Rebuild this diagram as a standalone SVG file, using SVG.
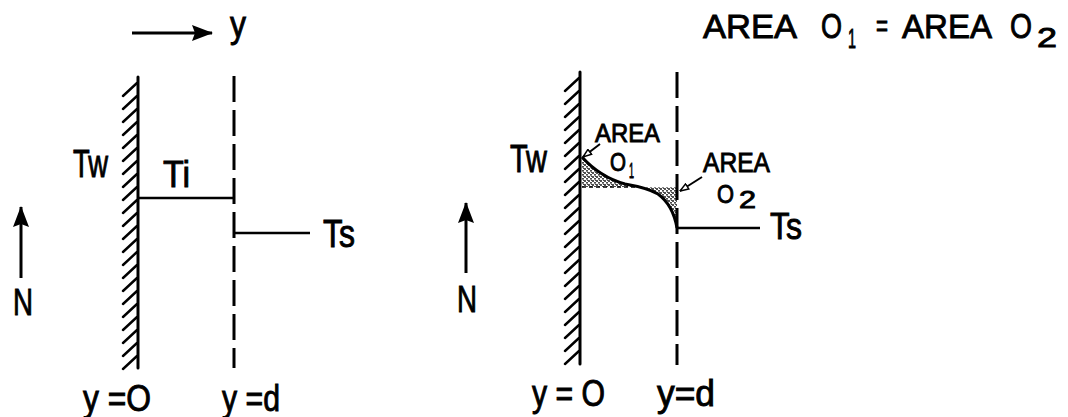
<svg xmlns="http://www.w3.org/2000/svg" width="1068" height="417" viewBox="0 0 1068 417">
<style>
  text { font-family: "Liberation Sans", Arial, sans-serif; fill: #000; stroke: #000; stroke-width: 0.9; }
  .wall { stroke: #000; stroke-width: 3; fill: none; stroke-linecap: round; }
  .hatch { stroke: #000; stroke-width: 2.4; fill: none; stroke-linecap: round; }
  .dash { stroke: #000; stroke-width: 3; fill: none; stroke-dasharray: 26 8; }
  .ln { stroke: #000; stroke-width: 2.5; fill: none; }
  .arr { stroke: #000; stroke-width: 3; fill: none; marker-end: url(#ah); }
  .sarr { stroke: #000; stroke-width: 2; fill: none; marker-end: url(#sh); }
  .stip { fill: url(#dots); stroke: none; }
</style>
<defs>
  <marker id="ah" viewBox="0 0 21 16" markerUnits="userSpaceOnUse" markerWidth="21" markerHeight="16" refX="20" refY="8" orient="auto">
    <path d="M0 0 L21 8 L0 16 L3 8 Z" fill="#000"/>
  </marker>
  <marker id="sh" viewBox="0 0 10 8" markerUnits="userSpaceOnUse" markerWidth="10" markerHeight="8" refX="9.5" refY="4" orient="auto">
    <path d="M1 1 L9.5 4 L1 7 Z" fill="#fff" stroke="#000" stroke-width="1.5"/>
  </marker>
  <pattern id="dots" patternUnits="userSpaceOnUse" width="4" height="4">
    <rect width="4" height="4" fill="#fff"/>
    <circle cx="1" cy="1" r="0.9" fill="#000"/>
    <circle cx="3" cy="2.8" r="0.9" fill="#000"/>
    <circle cx="3.4" cy="0.6" r="0.5" fill="#000"/>
  </pattern>
</defs>

<g id="title">
  <text font-size="34" x="703" y="38" textLength="94" lengthAdjust="spacingAndGlyphs">AREA</text>
  <text font-size="35" x="821" y="38" textLength="21" lengthAdjust="spacingAndGlyphs">O</text>
  <text font-size="28" x="848" y="48" textLength="8" lengthAdjust="spacingAndGlyphs">1</text>
  <text font-size="30" x="876" y="36" textLength="12" lengthAdjust="spacingAndGlyphs">=</text>
  <text font-size="34" x="902" y="38" textLength="90" lengthAdjust="spacingAndGlyphs">AREA</text>
  <text font-size="35" x="1010" y="38" textLength="22" lengthAdjust="spacingAndGlyphs">O</text>
  <text font-size="28" x="1037" y="47" textLength="20" lengthAdjust="spacingAndGlyphs">2</text>
</g>

<g id="left-panel">
  <path class="wall" d="M138 77 V368"/>
  <path class="hatch" d="M123 96 L137 83 M123 109 L137 96 M123 122 L137 109 M123 135 L137 122 M123 148 L137 135 M123 161 L137 148 M123 174 L137 161 M123 187 L137 174 M123 200 L137 187 M123 213 L137 200 M123 226 L137 213 M123 239 L137 226 M123 252 L137 239 M123 265 L137 252 M123 278 L137 265 M123 291 L137 278 M123 304 L137 291 M123 317 L137 304 M123 330 L137 317 M123 343 L137 330 M123 356 L137 343 M123 369 L137 356"/>
  <path class="dash" d="M234 76 V368"/>
  <path class="ln" d="M138 198 H234"/>
  <path class="ln" d="M234 233 H310"/>
  <text font-size="37" x="230" y="37" textLength="16" lengthAdjust="spacingAndGlyphs">y</text>
  <text font-size="38" x="73" y="177" textLength="35" lengthAdjust="spacingAndGlyphs">Tw</text>
  <text font-size="36" x="163" y="187" textLength="27" lengthAdjust="spacingAndGlyphs">Ti</text>
  <text font-size="38" x="323" y="247" textLength="32" lengthAdjust="spacingAndGlyphs">Ts</text>
  <text font-size="37" x="13" y="315" textLength="20" lengthAdjust="spacingAndGlyphs">N</text>
  <text font-size="37" x="83" y="411" textLength="68" lengthAdjust="spacingAndGlyphs">y =O</text>
  <text font-size="37" x="222" y="411" textLength="58" lengthAdjust="spacingAndGlyphs">y =d</text>
</g>

<g id="right-panel">
  <path class="stip" d="M582 157 Q600 177 625 184 L643 187 L582 187 Z"/>
  <path class="stip" d="M643 187 L677 187 L677 228 Q673 205 658 194 Q650 189 643 187 Z"/>
  <path d="M582 187 H643" stroke="#000" stroke-width="1.5" stroke-dasharray="4 3" fill="none"/>
  <path class="wall" d="M580 72 V364"/>
  <path class="hatch" d="M565 91 L579 78 M565 104 L579 91 M565 117 L579 104 M565 130 L579 117 M565 143 L579 130 M565 156 L579 143 M565 169 L579 156 M565 182 L579 169 M565 195 L579 182 M565 208 L579 195 M565 221 L579 208 M565 234 L579 221 M565 247 L579 234 M565 260 L579 247 M565 273 L579 260 M565 286 L579 273 M565 299 L579 286 M565 312 L579 299 M565 325 L579 312 M565 338 L579 325 M565 351 L579 338 M565 364 L579 351"/>
  <path class="dash" d="M677 72 V365"/>
  <path d="M582 157 Q600 177 625 184 Q648 188 658 194 Q673 205 677 228" stroke="#000" stroke-width="3" fill="none"/>
  <path class="ln" d="M677 228 H760"/>
  <text font-size="38" x="510" y="172" textLength="37" lengthAdjust="spacingAndGlyphs">Tw</text>
  <text font-size="26" x="595" y="142" textLength="65" lengthAdjust="spacingAndGlyphs">AREA</text>
  <text font-size="25" x="610" y="171" textLength="16" lengthAdjust="spacingAndGlyphs">O</text>
  <text font-size="22" x="629" y="178" textLength="5" lengthAdjust="spacingAndGlyphs">1</text>
  <text font-size="27" x="703" y="172" textLength="67" lengthAdjust="spacingAndGlyphs">AREA</text>
  <text font-size="26" x="717" y="203" textLength="17" lengthAdjust="spacingAndGlyphs">O</text>
  <text font-size="24" x="739" y="208" textLength="17" lengthAdjust="spacingAndGlyphs">2</text>
  <text font-size="37" x="770" y="239" textLength="32" lengthAdjust="spacingAndGlyphs">Ts</text>
  <text font-size="37" x="457" y="312" textLength="20" lengthAdjust="spacingAndGlyphs">N</text>
  <text font-size="36" x="532" y="406" textLength="73" lengthAdjust="spacingAndGlyphs">y = O</text>
  <text font-size="36" x="657" y="406" textLength="58" lengthAdjust="spacingAndGlyphs">y=d</text>
</g>

<g id="connectors">
  <path class="arr" d="M132 33 L212 33"/>
  <path class="arr" d="M21 278 L21 207"/>
  <path class="arr" d="M466 273 L466 203"/>
  <path class="sarr" d="M600 144 L583 157"/>
  <path class="sarr" d="M702 177 L680 191"/>
</g>
</svg>
